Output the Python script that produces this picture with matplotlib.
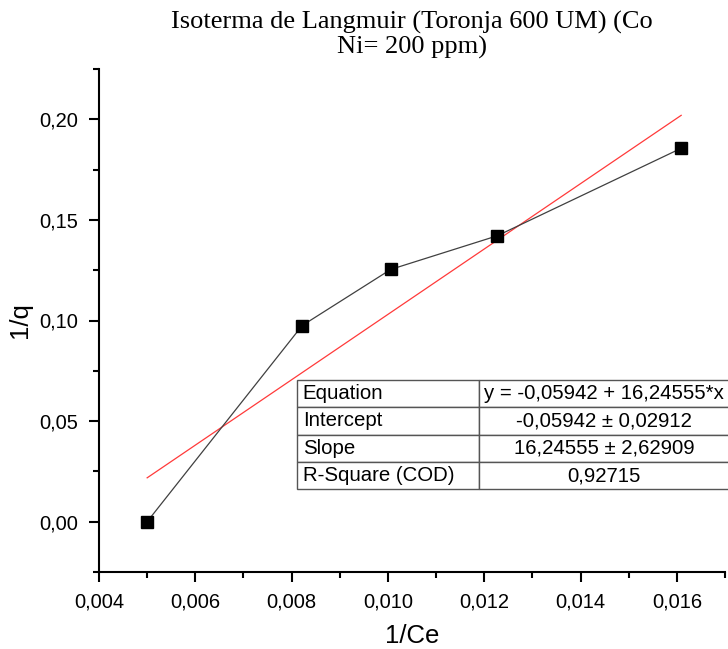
import matplotlib
matplotlib.use("Agg")
import matplotlib.pyplot as plt
import numpy as np
from matplotlib.ticker import MultipleLocator, FuncFormatter

# Data
x_vals = [0.00500, 0.00822, 0.01006, 0.01227, 0.01609]
y_vals = [0.0000, 0.0975, 0.1254, 0.1421, 0.1856]
intercept = -0.05942
slope = 16.24555
table_rows = [
    ["Equation", "y = -0,05942 + 16,24555*x"],
    ["Intercept", "-0,05942 \u00b1 0,02912"],
    ["Slope", "16,24555 \u00b1 2,62909"],
    ["R-Square (COD)", "0,92715"],
]
title = "Isoterma de Langmuir (Toronja 600 UM) (Co\nNi= 200 ppm)"
xlabel = "1/Ce"
ylabel = "1/q"

plt.rcParams['font.family'] = ['Liberation Sans', 'DejaVu Sans']

fig = plt.figure(figsize=(7.28, 6.49), dpi=100)
ax = fig.add_axes([99/728, 1 - 572/649, 626/728, 503/649])

ax.plot(x_vals, y_vals, color='#404040', lw=0.9, marker='s', ms=8,
        mfc='black', mec='black', zorder=3)
xf = np.array([min(x_vals), max(x_vals)])
ax.plot(xf, intercept + slope * xf, color='#ff3a3a', lw=0.9, zorder=2)

ax.set_xlim(0.004, 0.017)
ax.set_ylim(-0.025, 0.225)
ax.xaxis.set_major_locator(MultipleLocator(0.002))
ax.xaxis.set_minor_locator(MultipleLocator(0.001))
ax.yaxis.set_major_locator(MultipleLocator(0.05))
ax.yaxis.set_minor_locator(MultipleLocator(0.025))
ax.xaxis.set_major_formatter(FuncFormatter(lambda v, p: f"{v:.3f}".replace('.', ',')))
ax.yaxis.set_major_formatter(FuncFormatter(lambda v, p: f"{v:.2f}".replace('.', ',')))

for s in ['top', 'right']:
    ax.spines[s].set_visible(False)
for s in ['left', 'bottom']:
    ax.spines[s].set_linewidth(1.5)
ax.tick_params(which='major', direction='out', length=7, width=1.5, labelsize=14.5, pad=8)
ax.tick_params(which='minor', direction='out', length=4, width=1.5)

ax.set_xlabel(xlabel, fontsize=18.5, labelpad=9)
ax.set_ylabel(ylabel, fontsize=18.5, labelpad=5)

fig.text(412/728, 1 - 35/649, title, ha='center', va='center',
         fontsize=19, family='Liberation Serif', linespacing=1.1)

# Table
tx0, tx1 = (296.7 - 99) / 626, (729 - 99) / 626
ty0, ty1 = (572 - 489.3) / 503, (572 - 380) / 503
tbl = ax.table(cellText=table_rows, bbox=[tx0, ty0, tx1 - tx0, ty1 - ty0],
               colWidths=[0.422, 0.578], cellLoc='center')
tbl.auto_set_font_size(False)
tbl.set_fontsize(14.7)
tbl.set_clip_on(False)
for (r, c), cell in tbl.get_celld().items():
    cell.set_edgecolor('#555555')
    cell.set_linewidth(1.0)
    cell.set_facecolor('white')
    if c == 0:
        cell._loc = 'left'
        cell.get_text().set_ha('left')
        cell.PAD = 0.033
tbl.set_zorder(5)

fig.savefig('out.png', dpi=100)
